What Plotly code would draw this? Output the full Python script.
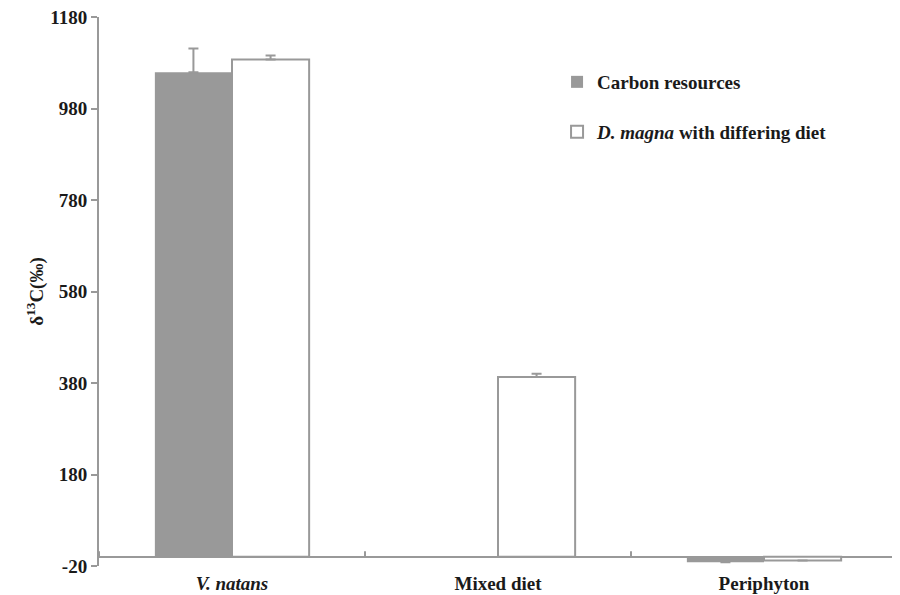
import plotly.graph_objects as go

categories = ["<i>V. natans</i>", "Mixed diet", "Periphyton"]
carbon_resources = [1059, None, -12]
carbon_err = [52, 0, 0]
dmagna = [1087, 393, -8]
dmagna_err = [9, 7, 0]
y_ticks = [-20, 180, 380, 580, 780, 980, 1180]

GRAY = "#999999"
FONT = "Times New Roman, Liberation Serif, serif"

fig = go.Figure()
fig.add_trace(go.Bar(
    x=categories, y=carbon_resources, name="<b>Carbon resources</b>",
    marker=dict(color=GRAY, line=dict(color=GRAY, width=0)),
    error_y=dict(type="data", array=carbon_err, arrayminus=[0]*3, symmetric=False,
                 color=GRAY, thickness=2, width=5),
    legend="legend",
))
fig.add_trace(go.Bar(
    x=categories, y=dmagna, name="<b><i>D. magna</i> with differing diet</b>",
    marker=dict(color="white", line=dict(color=GRAY, width=2)),
    error_y=dict(type="data", array=dmagna_err, arrayminus=[0]*3, symmetric=False,
                 color=GRAY, thickness=2, width=5),
    legend="legend2",
))

# category boundary ticks on the zero line
for i in range(len(categories) + 1):
    fig.add_shape(type="line", xref="x", yref="y", x0=i - 0.5, x1=i - 0.5,
                  y0=0, y1=12, line=dict(color=GRAY, width=2))

fig.update_layout(
    width=892, height=587,
    margin=dict(l=91, r=3, t=9, b=29),
    paper_bgcolor="white", plot_bgcolor="white",
    font=dict(family=FONT, size=19, color="#1a1a1a"),
    barmode="group", bargap=0.42, bargroupgap=0,
    showlegend=True,
    legend=dict(x=0.574, y=0.8816, xanchor="left", yanchor="middle",
                bgcolor="rgba(0,0,0,0)", font=dict(family=FONT, size=19)),
    legend2=dict(x=0.574, y=0.7905, xanchor="left", yanchor="middle",
                 bgcolor="rgba(0,0,0,0)", font=dict(family=FONT, size=19)),
)
fig.update_xaxes(
    range=[-0.5, 2.5], showline=False, ticks="", showgrid=False,
    tickfont=dict(family=FONT, size=19, weight="bold"), automargin=False,
    ticklabelstandoff=4, ticklabeloverflow="allow",
)
fig.update_yaxes(
    range=[-20, 1180], tickvals=y_ticks, ticktext=[str(v) for v in y_ticks],
    showline=True, linecolor=GRAY, linewidth=2, ticks="outside", ticklen=6,
    tickcolor=GRAY, tickwidth=2, showgrid=False,
    zeroline=True, zerolinecolor=GRAY, zerolinewidth=2,
    tickfont=dict(family=FONT, size=19, weight="bold"),
    ticklabeloverflow="allow",
    title=dict(text="<b>δ<sup>13</sup>C(‰)</b>", font=dict(family=FONT, size=19), standoff=2),
    automargin=False,
)

fig.write_html("out.html")
